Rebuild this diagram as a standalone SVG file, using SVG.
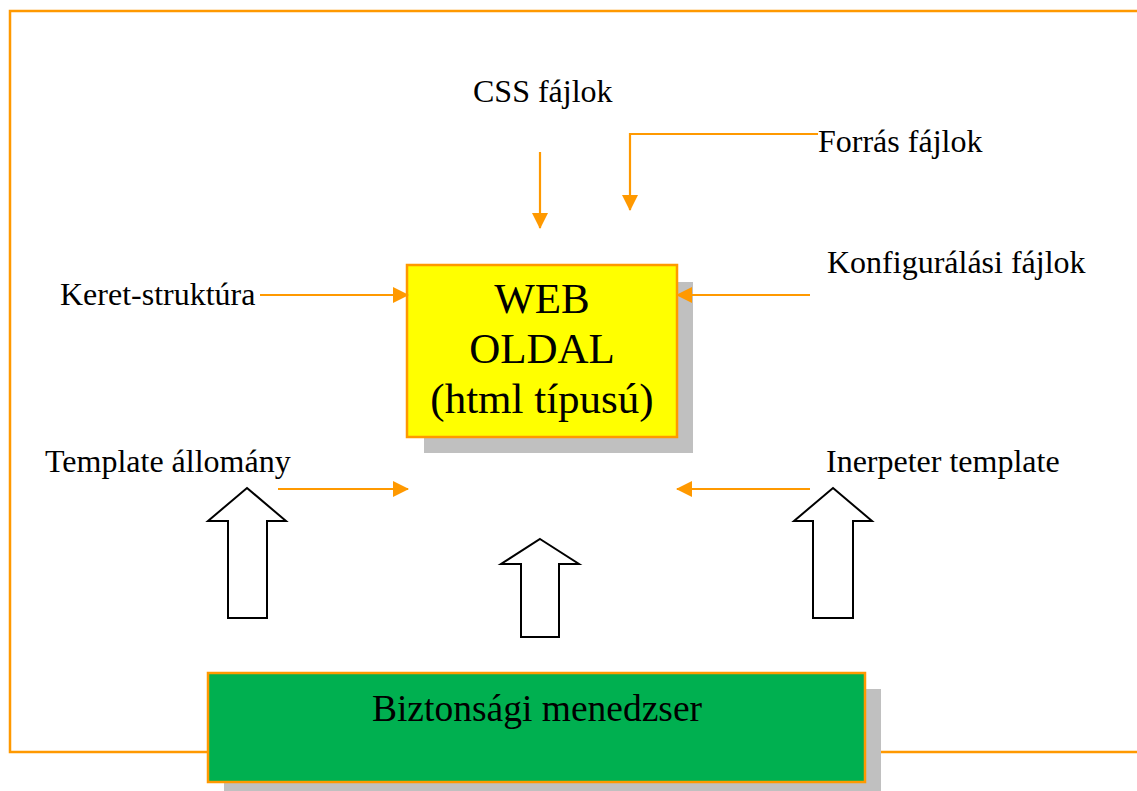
<svg xmlns="http://www.w3.org/2000/svg" width="1137" height="791" viewBox="0 0 1137 791">
<style>
.lbl{font-family:"Liberation Serif","Times New Roman",serif;font-size:32px;fill:#000}
.big{font-family:"Liberation Serif","Times New Roman",serif;font-size:43px;fill:#000;text-anchor:middle}
.mid{font-family:"Liberation Serif","Times New Roman",serif;font-size:37.5px;fill:#000;text-anchor:middle}
.con{fill:none;stroke:#FF9900;stroke-width:2.2}
.blk{fill:#fff;stroke:#000;stroke-width:2;stroke-linejoin:miter}
.shadow{fill:#C0C0C0}
</style>
<defs>
<marker id="ah" viewBox="0 0 16 16" refX="15" refY="8" markerWidth="16" markerHeight="16" markerUnits="userSpaceOnUse" orient="auto">
<path d="M0,0 L16,8 L0,16 Z" fill="#FF9900"/>
</marker>
</defs>
<rect width="1137" height="791" fill="#fff"/>
<g id="frame">
<path d="M1137,11 H10 V752 H1137" fill="none" stroke="#FF9900" stroke-width="2.5"/>
</g>
<g id="web-oldal">
<rect class="shadow" x="424" y="282" width="269" height="171"/>
<rect x="407" y="265" width="270" height="172" fill="#FFFF00" stroke="#FF9900" stroke-width="2.5"/>
<text class="big" x="542" y="313">WEB</text>
<text class="big" x="542" y="363">OLDAL</text>
<text class="big" x="542" y="413">(html típusú)</text>
</g>
<g id="biztonsagi">
<rect class="shadow" x="224" y="689" width="657" height="102"/>
<rect x="208" y="673" width="657" height="109" fill="#00B050" stroke="#FF9900" stroke-width="2.5"/>
<text class="mid" x="537" y="721">Biztonsági menedzser</text>
</g>
<g id="css"><text class="lbl" x="473" y="102">CSS fájlok</text></g>
<g id="forras"><text class="lbl" x="818" y="152">Forrás fájlok</text></g>
<g id="keret"><text class="lbl" x="60" y="305">Keret-struktúra</text></g>
<g id="konfig"><text class="lbl" x="827" y="273">Konfigurálási fájlok</text></g>
<g id="template"><text class="lbl" x="45" y="472">Template állomány</text></g>
<g id="inerpeter"><text class="lbl" x="826" y="472">Inerpeter template</text></g>
<g id="connectors">
<path class="con" d="M540,152 V228" marker-end="url(#ah)"/>
<path class="con" d="M818,134 H630 V210" marker-end="url(#ah)"/>
<path class="con" d="M260,295 H408" marker-end="url(#ah)"/>
<path class="con" d="M810,295 H677" marker-end="url(#ah)"/>
<path class="con" d="M278,489 H408" marker-end="url(#ah)"/>
<path class="con" d="M810,489 H677" marker-end="url(#ah)"/>
<path class="blk" d="M247,488 L286,521 H267 V618 H228 V521 H208 Z"/>
<path class="blk" d="M540,539 L579,564 H559 V637 H521 V564 H501 Z"/>
<path class="blk" d="M833,488 L872,521 H853 V618 H813 V521 H794 Z"/>
</g>
</svg>
